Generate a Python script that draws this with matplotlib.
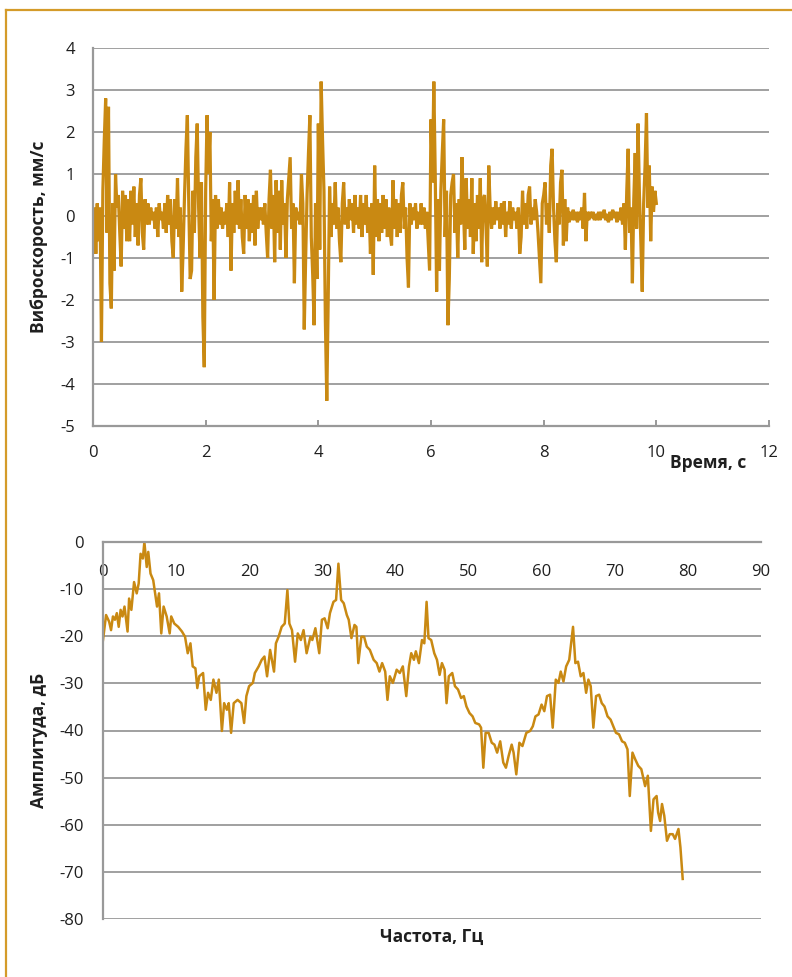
import numpy as np
import matplotlib
matplotlib.use("Agg")
import matplotlib.pyplot as plt
from matplotlib.lines import Line2D

plt.rcParams['font.family'] = ['Open Sans', 'DejaVu Sans']
plt.rcParams['axes.unicode_minus'] = False

# ---------------- data: vibration velocity (mm/s), step 0.025 s ----------------
t_step = 0.025
velocity = [
    # 0.0 - 0.975
    -0.3, 0.2, -0.9, 0.3, -0.6, 0.2, -3.0, 0.6, 1.8, 2.8, -0.4, 2.6, -1.6, -2.2, 0.3, -1.3,
    1.0, 0.2, 0.5, -0.4, -1.2, 0.6, -0.3, 0.5, -0.6, 0.4, -0.6, 0.6, -0.2, 0.7, -0.5, 0.3,
    -0.7, 0.5, 0.9, -0.4, -0.8, 0.4, -0.2, 0.3,
    # 1.0 - 1.975
    -0.2, 0.2, -0.1, 0.1, -0.3, 0.2, -0.5, 0.3, -0.1, 0.1, -0.3, 0.3, -0.4, 0.5, -0.2, 0.4,
    -0.6, -1.0, 0.4, -0.3, 0.9, -0.5, 0.2, -1.8, -0.8, 0.5, 1.6, 2.4, 0.3, -1.5, -1.3, 0.6,
    -0.4, 1.4, 2.2, 0.2, -1.0, 0.8, -2.4, -3.6,
    # 2.0 - 2.975
    0.6, 2.4, 1.0, 2.0, -0.6, 0.4, -2.0, 0.5, -0.3, 0.4, -0.2, 0.2, -0.3, 0.1, -0.2, 0.3,
    -0.5, 0.8, -1.3, 0.3, -0.4, 0.6, -0.2, 0.85, -0.3, 0.4, -0.5, -0.9, 0.5, -0.3, 0.4, -0.6,
    0.3, -0.4, 0.5, -0.7, 0.6, -0.3, 0.2, -0.1,
    # 3.0 - 3.975
    0.2, -0.2, 0.3, -0.4, -1.0, 0.4, 1.1, -0.3, 0.5, -1.1, 0.85, -0.4, 0.6, -0.8, 0.85, -0.2,
    0.3, -1.0, 0.4, 0.9, 1.4, -0.3, 0.3, -1.6, 0.2, -0.1, 0.1, -0.2, 1.0, 0.3, -2.7, -1.0,
    0.5, 1.5, 2.4, -0.5, -1.4, -2.6, 0.3, -1.5,
    # 4.0 - 4.975
    2.2, -0.8, 3.2, 1.8, 0.6, -2.5, -4.4, -2.0, 0.7, -0.5, 0.3, -0.2, 0.8, -0.3, 0.2, -0.6,
    -1.1, 0.3, 0.8, -0.2, 0.2, -0.3, 0.4, -0.1, 0.3, -0.4, 0.5, -0.2, 0.2, -0.3, 0.5, -0.5,
    0.3, -0.2, 0.5, -0.4, 0.2, -0.9, 0.3, -1.4,
    # 5.0 - 5.975
    1.2, -0.5, 0.4, -0.6, 0.3, -0.4, 0.5, -0.3, 0.4, -0.5, 0.2, -0.4, -0.7, 0.85, -0.3, 0.4,
    -0.5, 0.3, -0.4, 0.5, 0.8, -0.3, 0.2, -1.0, -1.7, 0.3, -0.2, 0.2, -0.1, 0.3, -0.3, 0.1,
    -0.2, 0.3, -0.2, 0.2, -0.3, 0.1, -0.6, -1.3,
    # 6.0 - 6.975
    2.3, 0.8, 3.2, 1.0, -1.8, 0.4, -1.3, 0.6, 1.5, 2.3, -0.5, 0.6, -2.6, -1.5, 0.5, 0.8,
    1.0, -0.4, 0.3, -1.0, 0.4, -0.2, 1.4, 0.2, -0.8, 0.9, -0.3, 0.4, -0.5, 0.9, -0.9, 0.3,
    -0.6, 0.5, -0.3, 0.9, -1.1, 0.4, 0.5, -0.2,
    # 7.0 - 7.975
    -1.2, 1.2, 0.2, -0.3, 0.2, -0.2, 0.35, -0.1, 0.2, -0.3, 0.3, -0.2, 0.35, -0.5, 0.1, -0.2,
    0.35, -0.3, 0.2, -0.1, 0.1, -0.3, 0.2, -0.9, -0.5, 0.6, -0.2, 0.3, -0.3, 0.5, 0.7, -0.2,
    0.2, -0.1, 0.4, 0.1, -0.4, -1.0, -1.6, 0.3,
    # 8.0 - 8.975
    0.5, 0.8, -0.2, 0.3, -0.4, 1.2, 1.6, 0.2, -0.6, -1.1, 0.3, -0.2, 0.8, 1.1, -0.7, 0.4,
    -0.6, 0.2, -0.15, 0.1, -0.1, 0.15, -0.1, 0.1, -0.15, 0.1, -0.1, 0.2, -0.3, 0.55, -0.6, 0.1,
    -0.1, 0.1, -0.05, 0.1, -0.1, 0.05, -0.1, 0.1,
    # 9.0 - 10.0
    -0.1, 0.1, -0.05, 0.15, -0.1, 0.05, -0.15, 0.1, -0.1, 0.15, -0.05, 0.1, -0.15, 0.1, -0.1, 0.2,
    -0.2, 0.3, -0.8, 0.6, 1.6, -0.4, 0.2, -1.6, 0.4, 1.5, -0.3, 2.2, 0.5, -0.6, -1.8, 0.3,
    1.2, 2.45, 0.2, 1.2, -0.6, 0.7, 0.1, 0.6, 0.3,
]
time_s = [i * t_step for i in range(len(velocity))]

# ---------------- data: spectrum ----------------
freq_hz = [
    0.0, 0.42, 0.84, 1.10, 1.36, 1.63, 1.89, 2.15, 2.41, 2.67, 2.94, 3.36, 3.57, 3.88, 4.25, 4.61,
    4.88, 5.14, 5.45, 5.66, 5.98, 6.19, 6.50, 6.87, 7.13, 7.39, 7.66, 7.97, 8.29, 8.71, 9.12, 9.33,
    9.75, 10.28, 10.80, 11.22, 11.59, 11.96, 12.27, 12.64, 12.90, 13.16, 13.69, 14.05, 14.37, 14.74,
    15.10, 15.52, 15.84, 16.26, 16.57, 16.94, 17.20, 17.52, 17.88, 18.41, 18.93, 19.30, 19.61, 19.98,
    20.50, 20.77, 21.29, 21.71, 22.08, 22.44, 22.86, 23.39, 23.65, 24.02, 24.44, 24.86, 25.22, 25.49,
    25.85, 26.27, 26.64, 27.06, 27.43, 27.85, 28.37, 28.63, 29.05, 29.58, 29.94, 30.31, 30.73, 31.04,
    31.52, 31.88, 32.20, 32.57, 32.93, 33.35, 33.61, 33.98, 34.40, 34.66, 34.92, 35.34, 35.71, 36.08,
    36.50, 37.02, 37.44, 37.81, 38.18, 38.60, 38.91, 39.23, 39.65, 40.17, 40.59, 41.01, 41.48, 41.85,
    42.16, 42.53, 42.79, 43.21, 43.63, 43.95, 44.26, 44.52, 44.89, 45.31, 45.68, 46.04, 46.36, 46.72,
    46.99, 47.30, 47.77, 48.14, 48.56, 48.98, 49.35, 49.71, 50.13, 50.55, 50.92, 51.44, 51.71, 52.02,
    52.33, 52.75, 53.17, 53.54, 53.91, 54.33, 54.75, 55.11, 55.48, 55.90, 56.16, 56.53, 56.95, 57.37,
    57.90, 58.42, 58.79, 59.15, 59.57, 59.99, 60.36, 60.73, 61.15, 61.51, 61.93, 62.30, 62.61, 62.98,
    63.35, 63.77, 64.08, 64.29, 64.61, 64.97, 65.34, 65.71, 66.08, 66.39, 66.71, 67.07, 67.44, 67.86,
    68.22, 68.59, 69.01, 69.43, 69.80, 70.16, 70.58, 71.00, 71.37, 71.74, 72.05, 72.42, 72.79, 73.21,
    73.63, 74.15, 74.52, 74.94, 75.30, 75.72, 75.93, 76.20, 76.46, 76.77, 77.14, 77.51, 77.93, 78.24,
    78.71, 78.98, 79.29,
]
amp_db = [
    -20.8, -15.5, -16.9, -18.7, -15.8, -16.5, -15.1, -18.0, -14.4, -15.8, -13.7, -19.0, -12.0, -14.4, -8.5, -10.9,
    -8.8, -2.5, -3.5, 0.0, -5.3, -2.1, -6.7, -8.1, -10.9, -13.7, -10.9, -19.4, -13.7, -15.8, -19.4, -15.8,
    -17.3, -18.0, -19.0, -20.1, -23.6, -21.5, -26.4, -26.8, -31.0, -28.5, -27.8, -35.6, -32.0, -33.5,
    -29.2, -32.0, -29.2, -40.1, -34.2, -35.6, -34.2, -40.5, -34.2, -33.5, -34.2, -38.4, -32.7, -30.6,
    -29.9, -27.8, -26.4, -25.0, -24.3, -28.5, -22.9, -27.5, -21.5, -20.1, -18.0, -17.3, -10.2, -17.3,
    -18.7, -25.4, -19.4, -20.8, -18.7, -23.6, -20.1, -20.8, -18.3, -23.6, -16.5, -16.2, -18.3, -15.1,
    -12.7, -12.3, -4.6, -12.3, -13.0, -15.5, -16.5, -20.4, -17.6, -18.0, -25.7, -20.1, -20.1, -22.2,
    -22.9, -25.0, -25.7, -27.5, -25.7, -27.5, -33.5, -28.5, -29.9, -27.1, -27.8, -26.4, -32.7, -26.4,
    -23.6, -25.0, -23.2, -25.7, -20.8, -21.5, -12.7, -20.4, -20.8, -23.6, -25.0, -28.2, -25.7, -27.1,
    -34.2, -28.5, -27.8, -30.6, -31.3, -33.1, -32.7, -34.9, -36.3, -37.0, -38.4, -38.7, -39.4, -47.9,
    -40.5, -40.5, -42.6, -43.0, -44.7, -42.3, -46.8, -47.9, -45.4, -43.0, -44.7, -49.3, -42.6, -43.3,
    -40.5, -40.1, -39.1, -37.0, -36.6, -34.5, -35.9, -32.7, -32.4, -39.4, -29.2, -29.9, -27.5, -29.6,
    -26.4, -25.0, -20.8, -18.0, -25.7, -25.4, -28.5, -27.8, -32.0, -29.2, -30.6, -39.4, -32.7, -32.4,
    -34.2, -34.9, -37.0, -37.7, -39.1, -40.5, -40.8, -42.3, -42.6, -44.0, -53.9, -44.7, -46.1, -47.5,
    -48.2, -51.8, -49.6, -61.3, -54.6, -53.9, -57.4, -59.2, -55.6, -58.1, -63.4, -62.0, -62.0, -63.0,
    -60.9, -64.8, -71.5,
]

top_xticks = [0, 2, 4, 6, 8, 10, 12]
top_yticks = [-5, -4, -3, -2, -1, 0, 1, 2, 3, 4]
bot_xticks = [0, 10, 20, 30, 40, 50, 60, 70, 80, 90]
bot_yticks = [0, -10, -20, -30, -40, -50, -60, -70, -80]

LINE = '#C98912'
GRID = '#999999'
TXT = '#1F1F1F'
TICK_FS = 12
LAB_FS = 12.5

fig = plt.figure(figsize=(7.92, 9.77), dpi=100)

# frame (left and top edges visible)
fig.add_artist(Line2D([6/792, 6/792], [0, 1 - 10/977], transform=fig.transFigure,
                      color='#D49B2A', lw=1.6))
fig.add_artist(Line2D([6/792, 1], [1 - 10/977, 1 - 10/977], transform=fig.transFigure,
                      color='#D49B2A', lw=1.6))

# ---------------- top chart ----------------
ax1 = fig.add_axes([93/792, 1 - 426/977, (769 - 93)/792, (426 - 48)/977])
ax1.plot(time_s, velocity, color=LINE, lw=2.3, solid_joinstyle='miter')
ax1.set_xlim(0, 12)
ax1.set_ylim(-5, 4)
ax1.set_xticks(top_xticks)
ax1.set_yticks(top_yticks)
ax1.yaxis.grid(True, color=GRID, lw=1.3)
ax1.set_axisbelow(True)
for s in ['top', 'right']:
    ax1.spines[s].set_visible(False)
for s in ['left', 'bottom']:
    ax1.spines[s].set_color(GRID)
    ax1.spines[s].set_linewidth(1.6)
ax1.tick_params(axis='x', direction='in', length=4, width=1.4, color=GRID,
                labelsize=TICK_FS, labelcolor=TXT, pad=14)
ax1.tick_params(axis='y', length=0, labelsize=TICK_FS, labelcolor=TXT, pad=13)
ax1.set_ylabel('Виброскорость, мм/с', fontsize=LAB_FS, fontweight='bold', color=TXT)
ax1.yaxis.set_label_coords(-(93 - 48) / 676, 0.5)
fig.text(708/792, 1 - 463/977, 'Время, с', fontsize=LAB_FS, fontweight='bold', color=TXT,
         ha='center', va='center')

# ---------------- bottom chart ----------------
ax2 = fig.add_axes([103/792, 1 - 919/977, (761 - 103)/792, (919 - 542)/977])
ax2.plot(freq_hz, amp_db, color=LINE, lw=1.8)
ax2.set_xlim(0, 90)
ax2.set_ylim(-80, 0)
ax2.set_xticks(bot_xticks)
ax2.set_yticks(bot_yticks)
ax2.yaxis.grid(True, color=GRID, lw=1.3)
ax2.set_axisbelow(True)
for s in ['bottom', 'right']:
    ax2.spines[s].set_visible(False)
for s in ['left', 'top']:
    ax2.spines[s].set_color(GRID)
    ax2.spines[s].set_linewidth(1.6)
ax2.tick_params(axis='x', bottom=False, labelbottom=False, top=True, labeltop=True,
                length=0, labelsize=TICK_FS, labelcolor=TXT, pad=-27)
ax2.tick_params(axis='y', length=0, labelsize=TICK_FS, labelcolor=TXT, pad=14)
ax2.set_ylabel('Амплитуда, дБ', fontsize=LAB_FS, fontweight='bold', color=TXT)
ax2.yaxis.set_label_coords(-(103 - 48) / 658, (919 - 740) / 377)
fig.text(432/792, 1 - 937/977, 'Частота, Гц', fontsize=LAB_FS, fontweight='bold', color=TXT,
         ha='center', va='center')

fig.savefig('out.png', dpi=100)
